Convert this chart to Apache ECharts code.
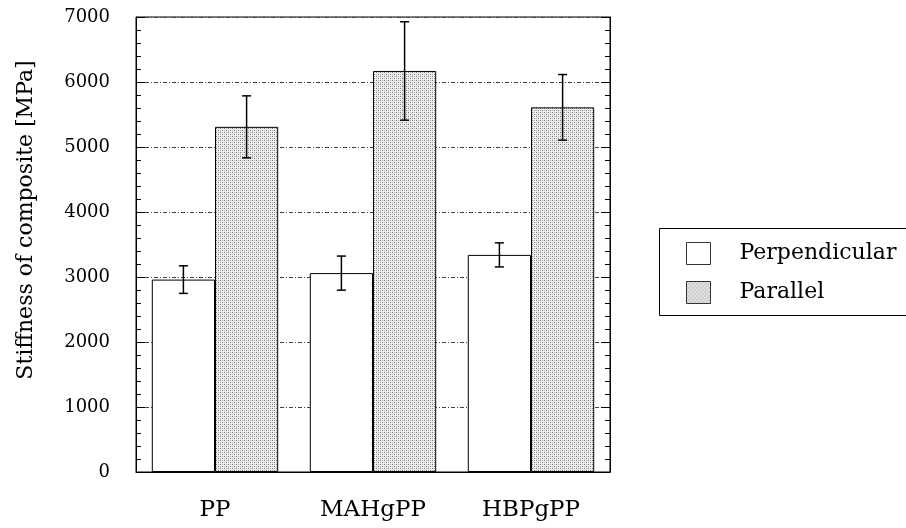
<!DOCTYPE html>
<html>
<head>
<meta charset="utf-8">
<script src="https://cdn.jsdelivr.net/npm/echarts@6/dist/echarts.min.js"></script>
<style>html,body{margin:0;padding:0;background:#fff}#c{width:906px;height:528px}</style>
</head>
<body>
<div id="c"></div>
<script>
const categories = ['PP', 'MAHgPP', 'HBPgPP'];
const perpendicular = [2960, 3060, 3340];
const perpendicularErr = [212, 262, 185];
const parallel = [5310, 6170, 5610];
const parallelErr = [477, 757, 505];
const yTicks = { min: 0, max: 7000, interval: 1000 };
const seriesNames = ['Perpendicular', 'Parallel'];
const yTitle = 'Stiffness of composite [MPa]';

const FONT = 'DejaVu Serif';

// dotted gray pattern
const pc = document.createElement('canvas');
pc.width = 4; pc.height = 4;
const px = pc.getContext('2d');
px.fillStyle = '#ededed'; px.fillRect(0, 0, 4, 4);
px.fillStyle = '#7a7a7a';
px.fillRect(0, 0, 1, 1); px.fillRect(2, 2, 1, 1);
px.fillStyle = '#b4b4b4';
px.fillRect(2, 0, 1, 1); px.fillRect(0, 2, 1, 1);
const pattern = { image: pc, repeat: 'repeat' };

const errData = [];
categories.forEach((c, i) => {
  errData.push([i, perpendicular[i] - perpendicularErr[i], perpendicular[i] + perpendicularErr[i], -1]);
  errData.push([i, parallel[i] - parallelErr[i], parallel[i] + parallelErr[i], 1]);
});

const chart = echarts.init(document.getElementById('c'));
chart.setOption({
  animation: false,
  grid: { left: 136, right: 296, top: 17, bottom: 56, show: true, borderColor: '#000', borderWidth: 1 },
  legend: {
    data: seriesNames,
    orient: 'vertical',
    left: 686, top: 242,
    icon: 'rect',
    itemWidth: 24, itemHeight: 22, itemGap: 16,
    padding: 0,
    textStyle: { fontFamily: FONT, fontSize: 22, color: '#000', padding: [0, 0, 0, 24] },
    itemStyle: { borderColor: '#333', borderWidth: 1 }
  },
  xAxis: {
    type: 'category',
    data: categories,
    axisTick: { show: false },
    axisLine: { lineStyle: { color: '#000' } },
    axisLabel: { fontFamily: FONT, fontSize: 23, color: '#000', margin: 27 }
  },
  yAxis: [{
    type: 'value',
    min: yTicks.min, max: yTicks.max, interval: yTicks.interval,
    axisLine: { show: true, lineStyle: { color: '#000' } },
    axisTick: { show: true, inside: true, length: 9, lineStyle: { color: '#000' } },
    minorTick: { show: true, splitNumber: 5, length: 5, lineStyle: { color: '#000' } },
    axisLabel: { fontFamily: FONT, fontSize: 18, color: '#000', margin: 26, formatter: v => String(v) },
    splitLine: { show: true, lineStyle: { color: '#444', type: [4, 2, 1, 2], width: 1 } }
  }, {
    type: 'value', position: 'right',
    min: yTicks.min, max: yTicks.max, interval: yTicks.interval,
    axisLine: { show: true, lineStyle: { color: '#000' } },
    axisTick: { show: true, inside: true, length: 9, lineStyle: { color: '#000' } },
    minorTick: { show: true, splitNumber: 5, length: 5, lineStyle: { color: '#000' } },
    axisLabel: { show: false },
    splitLine: { show: false }
  }],
  graphic: [{
    type: 'rect',
    shape: { x: 659.5, y: 228.5, width: 260, height: 87 },
    style: { fill: null, stroke: '#000', lineWidth: 1 }
  }, {
    type: 'text',
    x: 26, y: 220,
    rotation: Math.PI / 2,
    style: {
      text: yTitle, fontFamily: FONT, fontSize: 22, fill: '#000',
      align: 'center', verticalAlign: 'middle'
    }
  }],
  series: [{
    name: seriesNames[0], type: 'bar', data: perpendicular,
    barWidth: '40%', barGap: '0%',
    itemStyle: { color: '#fff', borderColor: '#000', borderWidth: 1 }
  }, {
    name: seriesNames[1], type: 'bar', data: parallel,
    barWidth: '40%', barGap: '0%',
    itemStyle: { color: pattern, borderColor: '#000', borderWidth: 1 }
  }, {
    type: 'custom', z: 10,
    data: errData,
    encode: { x: 0, y: [1, 2] },
    renderItem: function (params, api) {
      const ci = api.value(0);
      const lo = api.coord([ci, api.value(1)]);
      const hi = api.coord([ci, api.value(2)]);
      const bw = api.size([1, 0])[0] * 0.4;
      const x = lo[0] + api.value(3) * bw / 2;
      const cap = 4.5;
      const st = { stroke: '#000', lineWidth: 1.5 };
      return {
        type: 'group',
        children: [
          { type: 'line', shape: { x1: x, y1: lo[1], x2: x, y2: hi[1] }, style: st },
          { type: 'line', shape: { x1: x - cap, y1: lo[1], x2: x + cap, y2: lo[1] }, style: st },
          { type: 'line', shape: { x1: x - cap, y1: hi[1], x2: x + cap, y2: hi[1] }, style: st }
        ]
      };
    }
  }]
});
</script>
</body>
</html>
